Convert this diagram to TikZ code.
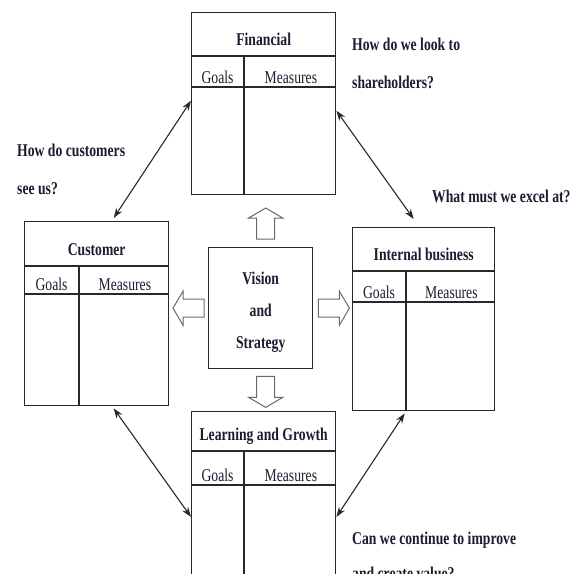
\documentclass[tikz,border=0pt]{standalone}
\usepackage{fontspec}
\setmainfont{Liberation Serif}[FakeStretch=0.76]
\usetikzlibrary{arrows.meta,calc}
\definecolor{inkdark}{RGB}{28,28,48}
\definecolor{boxline}{RGB}{40,40,40}
\definecolor{hollow}{RGB}{105,105,105}

\begin{document}
\begin{tikzpicture}[x=1pt,y=-1pt,
  tbl/.style={draw=boxline, line width=1.4pt, anchor=north west, inner sep=0pt},
  rule/.style={draw=boxline, line width=1.4pt},
  heading/.style={font=\bfseries\fontsize{18}{20}\selectfont, text=inkdark, anchor=base, inner sep=0pt},
  colhead/.style={font=\fontsize{18}{20}\selectfont, text=inkdark, anchor=base, inner sep=0pt},
  visiontext/.style={font=\bfseries\fontsize{18}{32}\selectfont, text=inkdark, align=center, anchor=north, inner sep=0pt},
  question/.style={font=\bfseries\fontsize{18}{38}\selectfont, text=inkdark, align=left, anchor=north west, inner sep=0pt},
  twoway/.style={{Stealth[length=10pt,width=7pt]}-{Stealth[length=10pt,width=7pt]}, draw=boxline, line width=1.1pt},
  blockarrow/.pic={\draw[hollow, line width=1pt, fill=white] (0,-9) -- (21,-9) -- (21,-17) -- (31,0) -- (21,17) -- (21,9) -- (0,9) -- cycle;}]
  \useasboundingbox (0,0) rectangle (572,574);
  \clip (0,0) rectangle (572,574);

  % the four perspectives
  \foreach \nm/\x/\y/\w/\h/\t/\g/\c/\ttl in {fin/191/12/144/182/44/75/53/Financial,
      cus/24/221/144/184/45/73/55/Customer,
      int/352/227/142/183/44/75/54/Internal business,
      lrn/191/411/144/200/40/74/53/Learning and Growth}
  {
    \node[tbl, minimum width=\w pt, minimum height=\h pt] (\nm) at (\x,\y) {};
    \draw[rule] ([yshift=-\t pt]\nm.north west) -- ([yshift=-\t pt]\nm.north east);
    \draw[rule] ([yshift=-\g pt]\nm.north west) -- ([yshift=-\g pt]\nm.north east);
    \draw[rule] ([xshift=\c pt, yshift=-\t pt]\nm.north west) -- ([xshift=\c pt]\nm.south west);
    \node[heading] (\nm-title) at ($(\nm.north)+(0,{\t-11})$) {\ttl};
    \node[colhead] (\nm-goals) at ($(\nm.north west)+({\c/2},{\g-4})$) {Goals};
    \node[colhead] (\nm-measures) at ($(\nm.north east)+({-(\w-\c)/2},{\g-4})$) {Measures};
  }

  % centre
  \node[tbl, minimum width=104pt, minimum height=121pt] (vis) at (208,247) {};
  \node[visiontext] (vis-text) at ($(vis.north)+(0,25)$) {Vision\\and\\Strategy};
  \pic[rotate=90] at ([xshift=5pt, yshift=8pt]vis.north) {blockarrow};
  \pic at ([xshift=5pt]vis.east) {blockarrow};
  \pic[rotate=180] at ([xshift=-4pt]vis.west) {blockarrow};
  \pic[rotate=-90] at ([xshift=5pt, yshift=-7pt]vis.south) {blockarrow};

  % links between perspectives
  \draw[twoway] ([yshift=3pt]fin.west) -- ([xshift=17pt, yshift=3pt]cus.north);
  \draw[twoway] ([yshift=-7pt]fin.east) -- ([xshift=-10pt, yshift=8pt]int.north);
  \draw[twoway] ([xshift=17pt, yshift=-2pt]cus.south) -- ([yshift=-106pt]lrn.north west);
  \draw[twoway] ([xshift=-19pt, yshift=-2pt]int.south) -- ([yshift=-106pt]lrn.north east);

  % questions
  \node[question] (q-fin) at (352,38) {How do we look to\\shareholders?};
  \node[question] (q-cus) at (17,144) {How do customers\\see us?};
  \node[question] (q-int) at (432,190) {What must we excel at?};
  \node[question, font=\bfseries\fontsize{18}{35}\selectfont] (q-lrn) at (352,532) {Can we continue to improve\\and create value?};
\end{tikzpicture}
\end{document}
